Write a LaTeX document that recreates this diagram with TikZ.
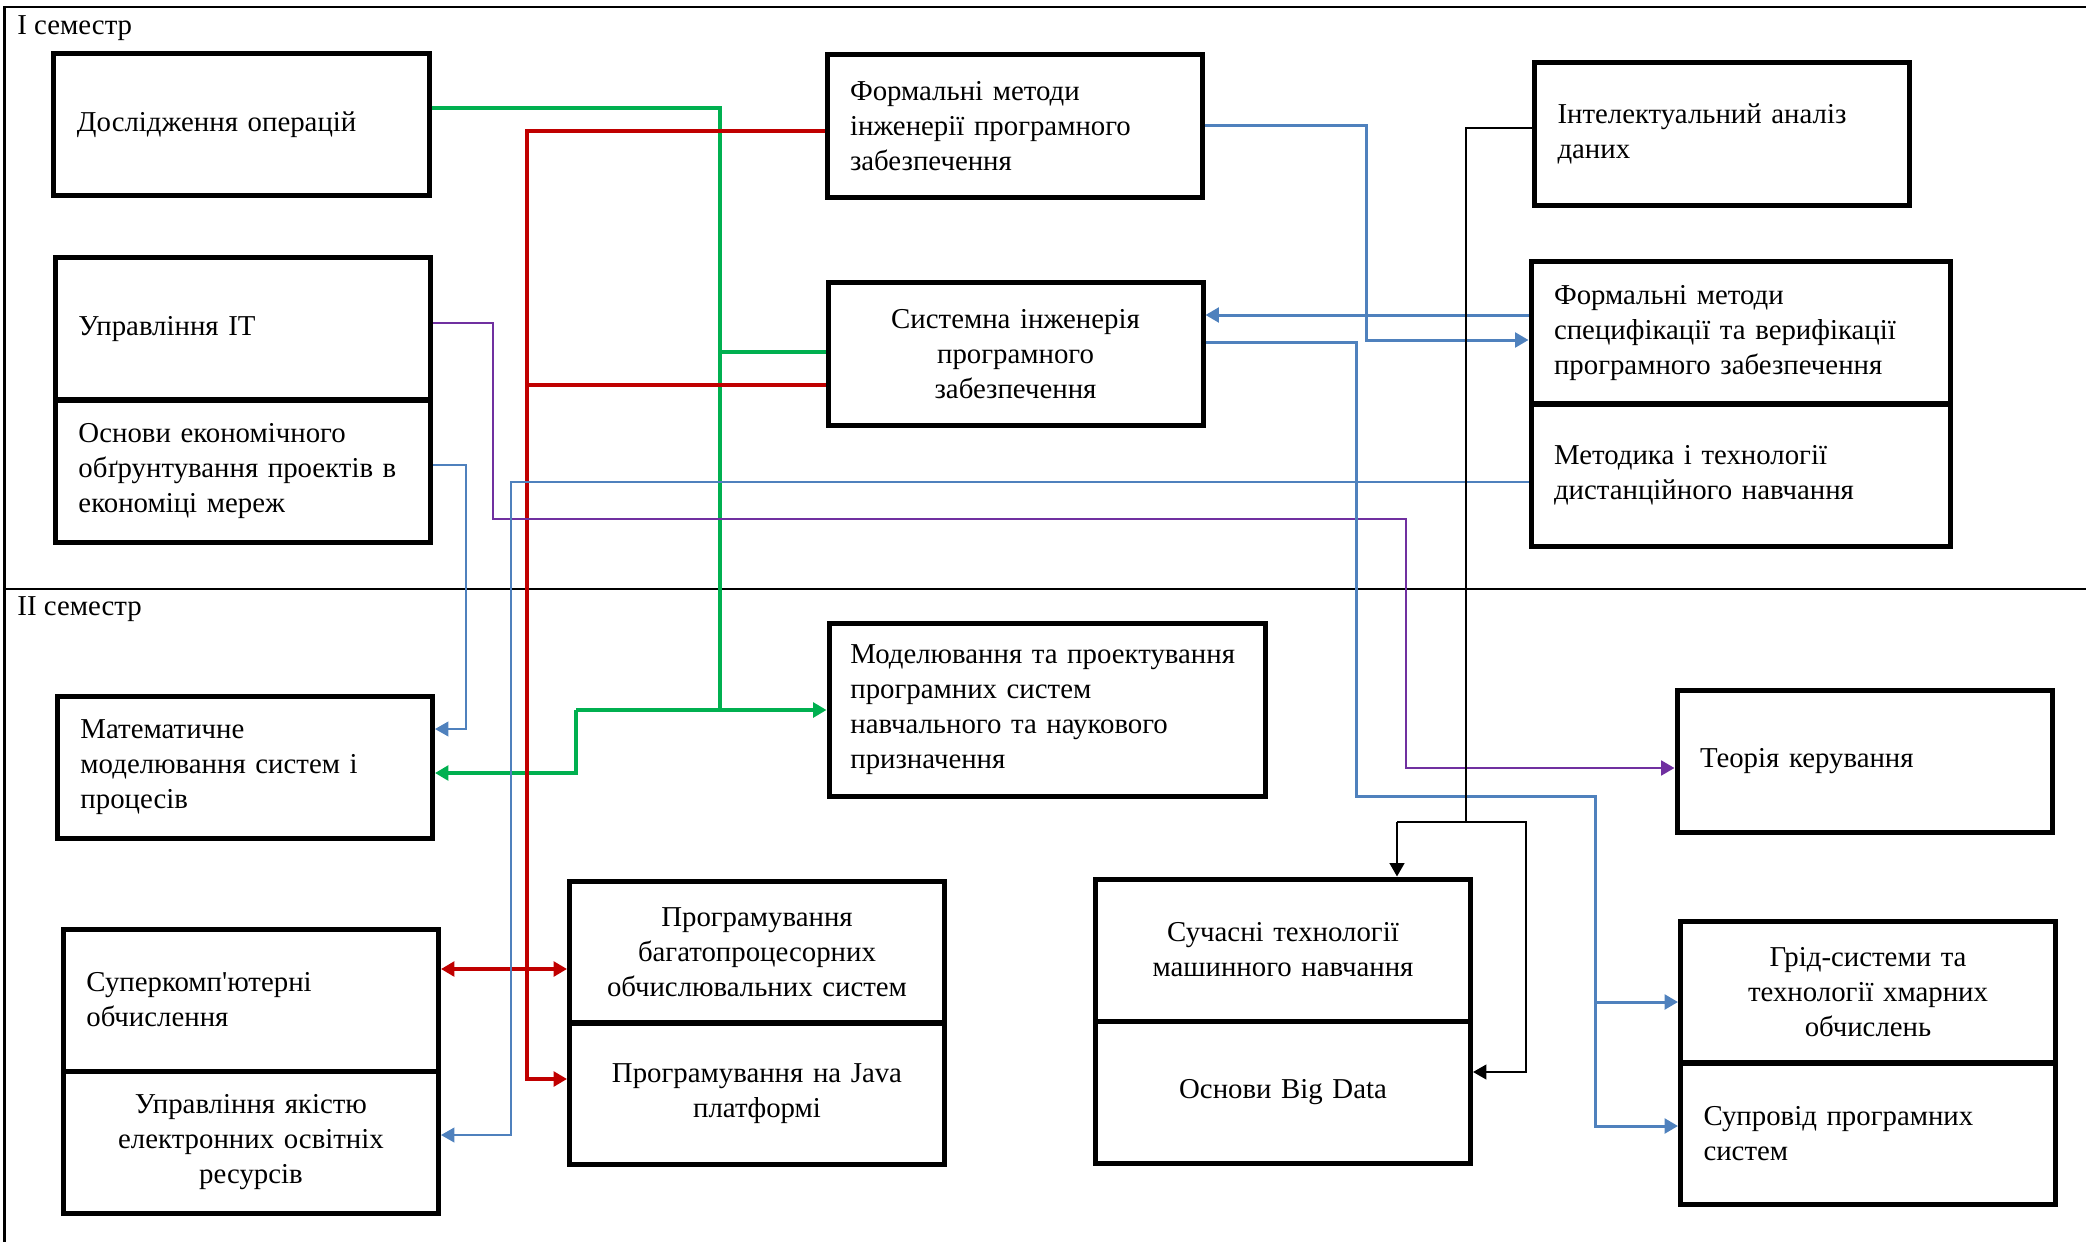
\documentclass[tikz,border=0pt]{standalone}
\usepackage{fontspec}
\setmainfont{Liberation Serif}[Ligatures=TeXOff]
\usetikzlibrary{arrows.meta}
\definecolor{mygreen}{RGB}{0,176,80}
\definecolor{myred}{RGB}{192,0,0}
\definecolor{myviolet}{RGB}{112,48,160}
\definecolor{myblue}{RGB}{79,129,189}
\tikzset{
  mybox/.style = {rectangle, draw, line width=0.75mm, minimum width=56.25mm, minimum height=21.3mm, inner xsep=3.45mm, inner ysep=0pt, text width=49.35mm, font=\fontsize{12.3}{14.9}\selectfont},
  myleft/.style = {mybox, align=left},
  mymid/.style = {mybox, align=center},
  mylabel/.style = {font=\fontsize{12.3}{14.9}\selectfont, inner sep=0pt},
  myframe/.style = {line width=0.3mm},
  myarrow/.style = {-{Triangle[length=2mm,width=2.2mm]}},
  mybiarrow/.style = {{Triangle[length=2mm,width=2.2mm]}-{Triangle[length=2mm,width=2.2mm]}},
  mygr/.style = {draw=mygreen, line width=0.5mm},
  myrd/.style = {draw=myred, line width=0.5mm},
  myvi/.style = {draw=myviolet, line width=0.42mm},
  mybl/.style = {draw=myblue, line width=0.45mm},
  mythinbl/.style = {draw=myblue, line width=0.28mm},
  mybk/.style = {draw=black, line width=0.3mm},
}
\begin{document}
\begin{tikzpicture}[x=0.15mm,y=-0.15mm]
\useasboundingbox (0,0) rectangle (2086,1242);
% frame and semesters
\draw[myframe] (4.5,1260) |- (2090,7.5);
\draw[myframe] (4.5,589) -- (2090,589);
\node[mylabel, anchor=base west] (sem1) at (17,35) {I семестр};
\node[mylabel, anchor=base west] (sem2) at (17,615) {II семестр};
% I semester
\node[myleft] (opr) at (241.5,124.5) {Дослідження операцій};
\node[myleft] (uit) at (243,329) {Управління ІТ};
\node[myleft] (eko) at (243,471) {Основи економічного\\обґрунтування проектів в\\економіці мереж};
\node[myleft] (fmi) at (1014.5,126) {Формальні методи\\інженерії програмного\\забезпечення};
\node[mymid] (sie) at (1015.5,354) {Системна інженерія\\програмного\\забезпечення};
\node[myleft] (ian) at (1722,134) {Інтелектуальний аналіз\\даних};
\node[myleft, minimum width=62.85mm, text width=55.95mm] (fsv) at (1740.5,333) {Формальні методи\\специфікації та верифікації\\програмного забезпечення};
\node[myleft, minimum width=62.85mm, text width=55.95mm] (dis) at (1740.5,475) {Методика і технології\\дистанційного навчання};
% II semester
\node[myleft, minimum width=65.4mm, inner xsep=3.2mm, text width=59mm, minimum height=25.95mm] (mod) at (1047,709.5) {Моделювання та проектування\\програмних систем\\навчального та наукового\\призначення};
\node[myleft] (mat) at (245,767.5) {Математичне\\моделювання систем і\\процесів};
\node[myleft] (ker) at (1864.5,761.5) {Теорія керування};
\node[myleft] (sup) at (251,1000) {Суперкомп'ютерні\\обчислення};
\node[mymid] (yak) at (251,1142) {Управління якістю\\електронних освітніх\\ресурсів};
\node[mymid] (bag) at (757,952) {Програмування\\багатопроцесорних\\обчислювальних систем};
\node[mymid] (jav) at (757,1093.5) {Програмування на Java\\платформі};
\node[mymid] (msh) at (1283,950) {Сучасні технології\\машинного навчання};
\node[mymid] (big) at (1283,1092) {Основи Big Data};
\node[mymid] (grd) at (1868,992) {Грід-системи та\\технології хмарних\\обчислень};
\node[myleft] (spr) at (1868,1133.5) {Супровід програмних\\систем};
% links
\draw[mygr] (opr.east |- 0,108) -| (720,710);
\draw[mygr] (720,352) -- (sie.west |- 0,352);
\draw[mygr, myarrow] (576,710) -- (mod.west |- 0,710);
\draw[mygr, myarrow] (576,710) |- (mat.east |- 0,773);
\draw[myrd, myarrow] (fmi.west |- 0,131) -| (527,1079) -- (jav.west |- 0,1079);
\draw[myrd] (sie.west |- 0,385) -- (527,385);
\draw[myrd, mybiarrow] (sup.east |- 0,969) -- (bag.west |- 0,969);
\draw[myvi, myarrow] (uit.east |- 0,323) -| (493,519) -| (1406,768) -- (ker.west |- 0,768);
\draw[mythinbl, myarrow] (eko.east |- 0,465) -| (466,729) -- (mat.east |- 0,729);
\draw[mythinbl, myarrow] (dis.west |- 0,482) -| (511,1135) -- (yak.east |- 0,1135);
\draw[mybl, myarrow] (fmi.east |- 0,126) -| (1366,340) -- (fsv.west |- 0,340);
\draw[mybl, myarrow] (fsv.west |- 0,315) -- (sie.east |- 0,315);
\draw[mybl, myarrow] (sie.east |- 0,342) -| (1356,796) -| (1595,1126) -- (spr.west |- 0,1126);
\draw[mybl, myarrow] (1595,1002) -- (grd.west |- 0,1002);
\draw[mybk] (ian.west |- 0,128) -| (1466,822);
\draw[mybk, myarrow] (1397,822) -- (msh.north -| 1397,0);
\draw[mybk, myarrow] (1397,822) -| (1526,1072) -- (big.east |- 0,1072);
\end{tikzpicture}
\end{document}
